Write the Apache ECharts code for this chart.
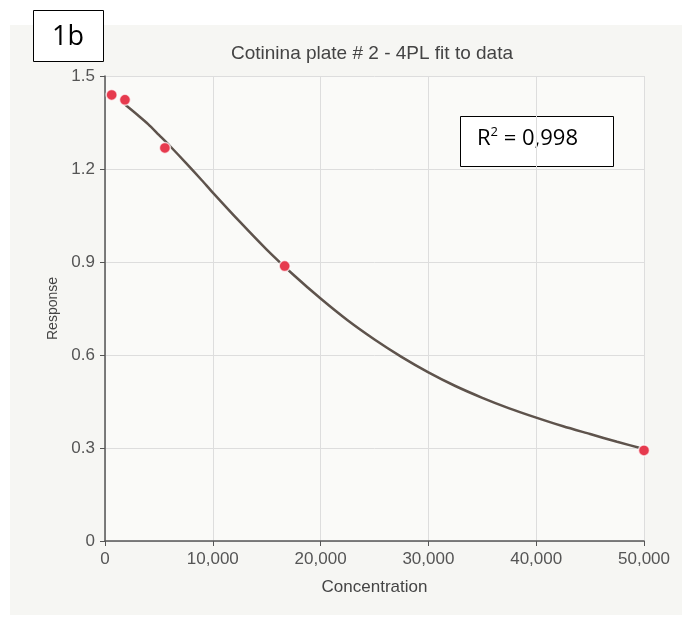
<!DOCTYPE html>
<html>
<head>
<meta charset="utf-8">
<script src="https://cdn.jsdelivr.net/npm/echarts@6/dist/echarts.min.js"></script>
<style>
  html, body { margin: 0; padding: 0; background: #ffffff; }
  #chart { width: 682px; height: 639px; }
</style>
</head>
<body>
<div id="chart"></div>
<script>
// measured standards (dilution series)
var concentrations = [617, 1852, 5556, 16667, 50000];
var responses = [1.439, 1.423, 1.268, 0.887, 0.292];

// fitted 4PL curve
var fitConc = [1852, 3000, 4000, 5000, 6000, 7500, 9000, 10000, 12500, 15000, 17500, 20000, 22500, 25000,
  27500, 30000, 32500, 35000, 37500, 40000, 42500, 45000, 47500, 50000];
var fitResp = [1.408, 1.375, 1.345, 1.31, 1.275, 1.22, 1.163, 1.124, 1.03, 0.94, 0.858, 0.782, 0.712, 0.65,
  0.594, 0.544, 0.5, 0.462, 0.428, 0.398, 0.37, 0.345, 0.32, 0.297];

function formatNumber(num) {
  return num.toString().replace(/(\d)(?=(\d{3})+(?!\d))/g, "$1,");
}

var points = concentrations.map(function (c, i) {
  return [c, responses[i]];
});
var curve = fitConc.map(function (c, i) {
  return [c, fitResp[i]];
});

var chart = echarts.init(document.getElementById("chart"));
var option = {
  animation: false,
  backgroundColor: "#ffffff",
  title: {
    text: "Cotinina plate # 2 - 4PL fit to data",
    left: 367,
    textAlign: "center",
    top: 39,
    textStyle: {
      fontFamily: "Liberation Sans",
      fontSize: 19,
      fontWeight: "normal",
      color: "#444444",
    },
  },
  graphic: [
    {
      type: "rect",
      z: -10,
      shape: { x: 10, y: 25, width: 672, height: 590 },
      style: { fill: "#f6f6f3" },
    },
    {
      type: "rect",
      z: -9,
      shape: { x: 105, y: 76, width: 539, height: 465 },
      style: { fill: "#fafaf8" },
    },
    {
      type: "rect",
      shape: { x: 33.5, y: 10.5, width: 70, height: 51 },
      style: { fill: "#ffffff", stroke: "#000000", lineWidth: 1 },
    },
    {
      type: "text",
      x: 68,
      y: 37,
      style: {
        text: "1b",
        font: "27px 'Open Sans'",
        fill: "#000000",
        textAlign: "center",
        textVerticalAlign: "middle",
      },
    },
    {
      type: "rect",
      shape: { x: 460.5, y: 116.5, width: 153, height: 50 },
      style: { fill: "#ffffff", stroke: "#000000", lineWidth: 1 },
    },
    {
      type: "text",
      left: 477,
      top: 126,
      style: {
        rich: {
          n: { fontFamily: "Open Sans", fontSize: 22, fill: "#000000" },
          s: { fontFamily: "Open Sans", fontSize: 13, fill: "#000000", verticalAlign: "top", padding: [0, 0, 13, 0] },
        },
        text: "{n|R}{s|2}{n| = 0,998}",
      },
    },
  ],
  grid: {
    left: 105,
    right: 38,
    top: 76,
    bottom: 98,
  },
  xAxis: {
    type: "value",
    min: 0,
    max: 50000,
    interval: 10000,
    name: "Concentration",
    nameLocation: "middle",
    nameGap: 38,
    nameTextStyle: { fontFamily: "Liberation Sans", fontSize: 17, color: "#444444" },
    axisLine: { lineStyle: { color: "#555555", width: 1.5 } },
    axisTick: { show: true, length: 5, lineStyle: { color: "#555555" } },
    axisLabel: {
      fontFamily: "Liberation Sans",
      fontSize: 17,
      color: "#555555",
      margin: 10,
      formatter: function (v) {
        return formatNumber(v);
      },
    },
    splitLine: { show: true, lineStyle: { color: "#dddddd", width: 1 } },
  },
  yAxis: {
    type: "value",
    min: 0,
    max: 1.5,
    interval: 0.3,
    name: "Response",
    nameLocation: "middle",
    nameRotate: 90,
    nameGap: 43,
    nameTextStyle: { fontFamily: "Liberation Sans", fontSize: 14, color: "#444444" },
    axisLine: { show: true, lineStyle: { color: "#555555", width: 1.5 } },
    axisTick: { show: true, length: 5, lineStyle: { color: "#555555" } },
    axisLabel: {
      fontFamily: "Liberation Sans",
      fontSize: 17,
      color: "#555555",
      margin: 10,
      formatter: function (v) {
        return v === 0 ? "0" : v.toFixed(1);
      },
    },
    splitLine: { show: true, lineStyle: { color: "#dddddd", width: 1 } },
  },
  series: [
    {
      name: "4PL fit",
      type: "line",
      smooth: 0.25,
      symbol: "none",
      data: curve,
      z: 2,
      lineStyle: { color: "#5e534c", width: 2.5 },
    },
    {
      name: "Standards",
      type: "scatter",
      symbolSize: 11,
      data: points,
      z: 3,
      itemStyle: {
        color: "#e63a4e",
        borderColor: "rgba(255,255,255,0.7)",
        borderWidth: 1.5,
        opacity: 1,
      },
    },
  ],
};
chart.setOption(option);
</script>
</body>
</html>
